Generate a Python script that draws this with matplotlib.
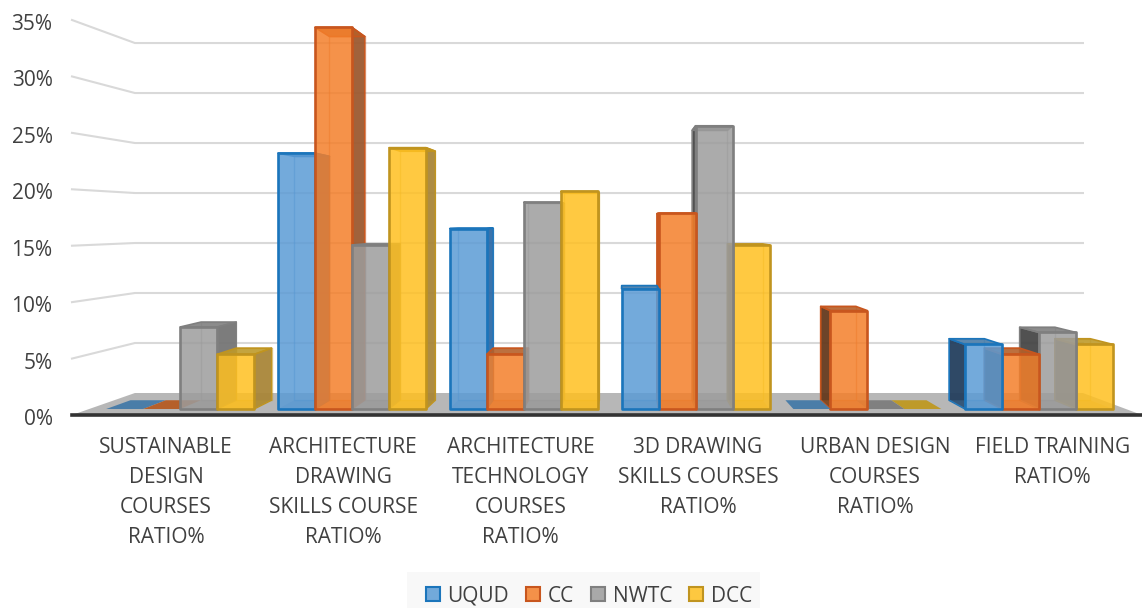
import matplotlib
matplotlib.use("Agg")
import matplotlib.pyplot as plt
from matplotlib.patches import Polygon, Patch
from matplotlib.colors import to_rgba
from matplotlib.transforms import ScaledTranslation

plt.rcParams['font.family'] = ['Open Sans', 'DejaVu Sans']

categories = ["SUSTAINABLE\nDESIGN\nCOURSES\nRATIO%",
              "ARCHITECTURE\nDRAWING\nSKILLS COURSE\nRATIO%",
              "ARCHITECTURE\nTECHNOLOGY\nCOURSES\nRATIO%",
              "3D DRAWING\nSKILLS COURSES\nRATIO%",
              "URBAN DESIGN\nCOURSES\nRATIO%",
              "FIELD TRAINING\nRATIO%"]
series_names = ["UQUD", "CC", "NWTC", "DCC"]
uqud = [0, 23.4, 16.5, 11.0, 0, 5.9]
cc = [0, 34.9, 5.0, 17.9, 9.0, 5.0]
nwtc = [7.5, 15.0, 18.9, 25.9, 0, 7.0]
dcc = [5.0, 23.9, 19.9, 15.0, 0, 5.9]
yticks = [0, 5, 10, 15, 20, 25, 30, 35]

front_colors = ["#5b9bd5", "#f47f2a", "#9c9c9c", "#ffc020"]
edge_colors = ["#1b75bb", "#c8561e", "#7f7f7f", "#c0941f"]
top_colors = ["#4a7da8", "#b5602a", "#808080", "#be9a2a"]
right_colors = ["#2f6ba8", "#9c5a30", "#757575", "#a98639"]
left_colors = ["#243f5e", "#653a1d", "#474747", "#8a7030"]

W, H = 1142, 608
fig = plt.figure(figsize=(W / 100, H / 100), dpi=100)
ax = fig.add_axes([72 / W, (H - 415) / H, (1142 - 72) / W, 395 / H])
ax.set_xlim(-0.53, 5.505)
ax.set_ylim(0, 35)

VPX, VPY = 2.583, 17.1
F_BAR = 0.969
F_BAR_BACK = 0.9235
F_WALL = 0.886
BAR_W = 0.2154


def proj(x, y, f):
    return (VPX + (x - VPX) * f, VPY + (y - VPY) * f)


def poly(pts, fc, ec='none', lw=0, z=2, alpha=1.0):
    ax.add_patch(Polygon(pts, closed=True, facecolor=to_rgba(fc, alpha) if fc != 'none' else 'none',
                         edgecolor=ec, linewidth=lw, clip_on=False, zorder=z, joinstyle='round'))


# back wall gridlines
x0, x1 = ax.get_xlim()
for t in yticks[1:]:
    a = proj(x0, t, 1)
    b = proj(x0, t, F_WALL)
    c = proj(x1, t, F_WALL)
    ax.plot([a[0], b[0], c[0]], [a[1], b[1], c[1]], color="#d9d9d9", lw=1.5, zorder=1, clip_on=False)

# floor
poly([proj(x0, 0, 1), proj(x1, 0, 1), proj(x1, 0, F_WALL), proj(x0, 0, F_WALL)], "#b7b7b7", z=1.5)

# bars
bars = []
for s, vals in enumerate([uqud, cc, nwtc, dcc]):
    for g, v in enumerate(vals):
        left = g + (s - 2) * BAR_W
        bars.append((left, left + BAR_W, v, s))
bars.sort(key=lambda b: -abs((b[0] + b[1]) / 2 - VPX))

z = 3
for xa, xb, v, s in bars:
    z += 0.01
    ec = edge_colors[s]
    fb = F_BAR
    bk = F_BAR_BACK
    if v == 0:
        poly([proj(xa, 0, fb), proj(xb, 0, fb), proj(xb, 0, bk), proj(xa, 0, bk)], top_colors[s], z=z)
        continue
    # back face outline
    poly([proj(xa, 0, bk), proj(xb, 0, bk), proj(xb, v, bk), proj(xa, v, bk)], 'none',
         ec=to_rgba(ec, 0.45), lw=1.0, z=z)
    # side
    if xa > VPX:
        poly([proj(xa, 0, fb), proj(xa, v, fb), proj(xa, v, bk), proj(xa, 0, bk)], left_colors[s],
             ec=ec, lw=1.2, z=z, alpha=0.95)
    elif xb < VPX:
        poly([proj(xb, 0, fb), proj(xb, v, fb), proj(xb, v, bk), proj(xb, 0, bk)], right_colors[s],
             ec=ec, lw=1.0, z=z, alpha=0.95)
    # floor of the bar
    poly([proj(xa, 0, fb), proj(xb, 0, fb), proj(xb, 0, bk), proj(xa, 0, bk)], top_colors[s], z=z, alpha=0.35)
    # top
    poly([proj(xa, v, fb), proj(xb, v, fb), proj(xb, v, bk), proj(xa, v, bk)], top_colors[s],
         ec=ec, lw=1.2, z=z, alpha=0.9)
    # front
    poly([proj(xa, 0, fb), proj(xb, 0, fb), proj(xb, v, fb), proj(xa, v, fb)], front_colors[s],
         ec=ec, lw=1.9, z=z, alpha=0.85)

# axes furniture
for name in ("top", "left", "right"):
    ax.spines[name].set_visible(False)
ax.spines["bottom"].set_linewidth(2.6)
ax.spines["bottom"].set_color("#333333")
ax.spines["bottom"].set_zorder(5)
ax.patch.set_visible(False)
ax.set_yticks(yticks)
ax.set_yticklabels([f"{t}%" for t in yticks])
ax.set_xticks(range(len(categories)))
ax.set_xticklabels(categories, linespacing=1.56)
ax.tick_params(axis='y', length=0, pad=14, labelsize=15, labelcolor="#404040")
ax.tick_params(axis='x', length=0, pad=16, labelsize=15, labelcolor="#404040")
shift = ScaledTranslation(0, -2 / 72 * 72 / 100, fig.dpi_scale_trans)
for lab in ax.get_yticklabels():
    lab.set_transform(lab.get_transform() + shift)

# legend
fig.patches.append(plt.Rectangle((407 / W, 0), 353 / W, 36 / H, transform=fig.transFigure,
                                 facecolor="#f8f8f8", edgecolor='none', zorder=0))
handles = [Patch(facecolor=to_rgba(f, 0.85), edgecolor=e, linewidth=1.5, label=n)
           for f, e, n in zip(front_colors, edge_colors, series_names)]
fig.legend(handles=handles, ncol=4, loc='center', bbox_to_anchor=(589 / W, 12 / H),
           frameon=False, fontsize=15, labelcolor="#404040", handlelength=0.68, handleheight=0.68,
           handletextpad=0.35, columnspacing=0.82, borderpad=0, borderaxespad=0)

fig.savefig("out.png", dpi=100)
